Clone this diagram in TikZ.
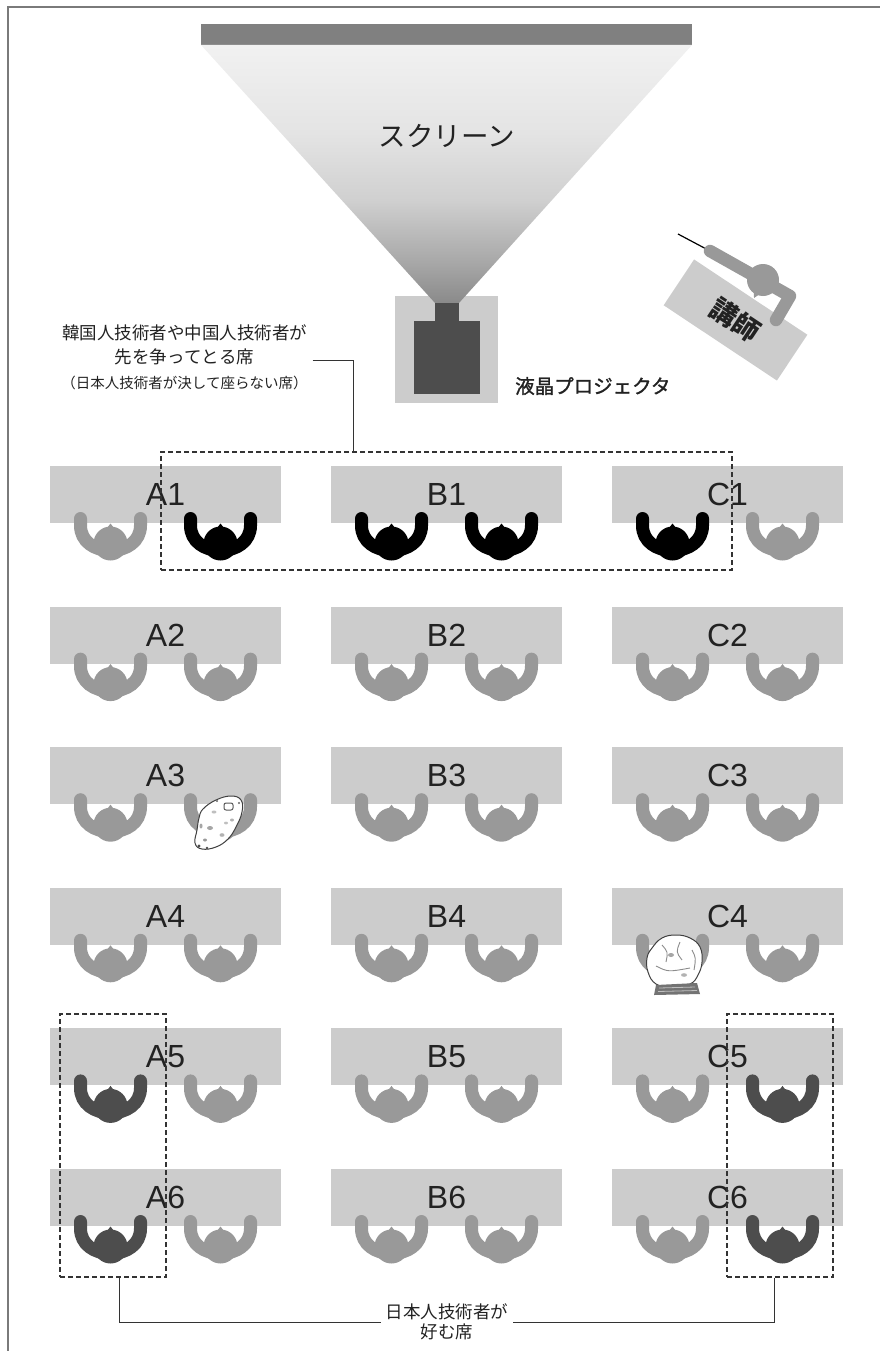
\documentclass[tikz,border=0pt]{standalone}
\usepackage{fontspec}
\newfontfamily\jpfont{Noto Sans CJK JP}
\newfontfamily\jpsemi{Noto Sans CJK JP}[FakeBold=1.4]
\newfontfamily\labfont{Liberation Sans}
\usetikzlibrary{calc}
\definecolor{tablegray}{HTML}{CCCCCC}
\definecolor{seatgray}{HTML}{999999}
\definecolor{seatdark}{HTML}{4D4D4D}
\definecolor{inkgray}{HTML}{333333}
\definecolor{framegray}{HTML}{7A7A7A}
\definecolor{bargray}{HTML}{808080}
\definecolor{beamtop}{HTML}{F1F1F1}
\definecolor{beamupper}{HTML}{E4E4E4}
\definecolor{beammid}{HTML}{D0D0D0}
\definecolor{beamlow}{HTML}{A8A8A8}
\definecolor{beambot}{HTML}{8A8A8A}
\definecolor{bodygray}{HTML}{4D4D4D}
\definecolor{txt}{HTML}{222222}

% light cone from the projector: pale at the screen, darker at the lens
\pgfdeclareverticalshading{beam}{100bp}{%
  color(0bp)=(beambot); color(25bp)=(beambot); color(33bp)=(beamlow);
  color(45bp)=(beammid); color(58bp)=(beamupper); color(75bp)=(beamtop);
  color(100bp)=(beamtop)}

\tikzset{
  desk/.style={fill=tablegray, minimum width=231, minimum height=57, inner sep=0,
    font=\labfont\fontsize{32}{32}\selectfont, text=txt},
  grp/.style={draw=inkgray, line width=1.1, dash pattern=on 5pt off 3pt, inner sep=0},
  lead/.style={draw=inkgray, line width=1},
  blobline/.style={draw=black!75, line width=1, fill=white},
  pics/seat/.style={code={
    \draw[#1, line width=13, line cap=round]
      (-30,-25) -- (-30,-18) .. controls (-30,-2) and (-16,7) .. (0,7)
      .. controls (16,7) and (30,-2) .. (30,-18) -- (30,-25);
    \fill[#1] (0,0) circle (17);
    \fill[#1] (-3.5,-15.5) -- (0,-20) -- (3.5,-15.5) -- cycle;
  }},
}

\begin{document}
\begin{tikzpicture}[x=1pt, y=-1pt]
\useasboundingbox (0,0) rectangle (880,1351);

% page frame (top and left edges)
\draw[framegray, line width=2] (8,1351) -- (8,7.5) -- (880,7.5);

% screen and projector
\fill[bargray] (201,24) rectangle (692,45);
\fill[tablegray] (395,296) rectangle (498,403);
\shade[shading=beam]
  (201,45) -- (692,45) -- (459,303) -- (435,303) -- cycle;
\fill[bodygray] (435,303) rectangle (459,321);
\fill[bodygray] (414,321) rectangle (480,394);
\node[font=\jpfont\fontsize{27.5}{27.5}\selectfont, text=txt, inner sep=0] (screen) at (447,136) {スクリーン};
\node[font=\jpsemi\fontsize{19.5}{19.5}\selectfont, text=txt, anchor=west, inner sep=0] (proj) at (515,386) {液晶プロジェクタ};

% lecturer
\node[fill=tablegray, rotate=-33.6, minimum width=136, minimum height=55, inner sep=0,
  font=\jpfont\bfseries\fontsize{27}{27}\selectfont, text=txt] (lect) at (735.5,320) {講師};
\draw[black, line width=1.2] (678,234) -- (710,251);
\draw[seatgray, line width=12.5, line cap=round, line join=round] (710,251) -- (790,296) -- (776,320);
\fill[seatgray] (763,280) circle (16);
\fill[seatgray] (759.5,294.3) -- (754,298) -- (753.9,291.2) -- cycle;

% caption for the front group
\node[font=\jpfont\fontsize{17.5}{24}\selectfont, text=txt, align=center, inner sep=0] (lblFront) at (184.5,357)
  {韓国人技術者や中国人技術者が\\先を争ってとる席\\[1pt]{\fontsize{14.5}{14.5}\selectfont （日本人技術者が決して座らない席）}};

% desks
\foreach \r in {1,...,6}{
  \foreach \t/\L in {0/A,1/B,2/C}{
    \pgfmathsetmacro\cx{165.5+281*\t}
    \pgfmathsetmacro\cy{494.5+140.6*(\r-1)}
    \node[desk] (t\L\r) at (\cx,\cy) {\L\r};
  }
}

% seats
\foreach \x/\c in {110.5/seatgray,220.5/black,391.5/black,501.5/black,672.5/black,782.5/seatgray}
  \pic at (\x,543.5) {seat=\c};
\foreach \r in {2,3,4}{
  \pgfmathsetmacro\hy{543.5+140.6*(\r-1)}
  \foreach \x in {110.5,220.5,391.5,501.5,672.5,782.5}
    \pic at (\x,\hy) {seat=seatgray};
}
\foreach \r in {5,6}{
  \pgfmathsetmacro\hy{543.5+140.6*(\r-1)}
  \foreach \x/\c in {110.5/seatdark,220.5/seatgray,391.5/seatgray,501.5/seatgray,672.5/seatgray,782.5/seatdark}
    \pic at (\x,\hy) {seat=\c};
}

% odd occupant at A3
\draw[blobline] plot[smooth cycle, tension=0.7] coordinates
  {(203,809) (216,800) (231,796) (241,800) (242,812) (236,827) (228,839) (216,847) (202,849) (195,843) (197,830) (199,818)};
\draw[black!65, line width=1, rounded corners=2] (224,803) rectangle (233,810);
\fill[black!35] (210,828) ellipse (3 and 2);
\fill[black!30] (222,835) ellipse (2.5 and 1.8);
\fill[black!40] (205,840) ellipse (2 and 1.5);
\fill[black!30] (232,820) ellipse (2 and 1.5);
\fill[black!25] (214,812) ellipse (2.5 and 1.5);
\fill[black!25] (226,823) ellipse (2 and 1.4);
\fill[black!35] (201,826) ellipse (1.5 and 2.5);
\fill[black!70] (199,846) circle (1.6);
\fill[black!70] (207,848) circle (1.3);
\fill[black!60] (239,803) circle (1.2);
\fill[black!60] (217,801) circle (1.1);

% odd occupant at C4
\draw[blobline] plot[smooth cycle, tension=0.7] coordinates
  {(652,948) (662,938) (676,935) (690,938) (700,947) (702,962) (698,975) (690,984) (672,987) (656,984) (648,972) (647,958)};
\draw[black!45, line width=0.9] (662,945) .. controls (668,952) .. (666,962);
\draw[black!45, line width=0.9] (680,942) .. controls (676,952) .. (682,960);
\draw[black!45, line width=0.9] (656,966) .. controls (668,972) .. (690,968);
\draw[black!45, line width=0.9] (692,950) .. controls (696,958) .. (694,970);
\fill[black!35] (671,955) ellipse (3 and 2);
\fill[black!30] (684,975) ellipse (3 and 1.8);
\fill[black!55] (656,985) -- (697,983) -- (700,994) -- (654,995) -- cycle;
\draw[white!75!black, line width=0.8] (659,988) -- (695,987);
\draw[white!75!black, line width=0.8] (658,991.5) -- (697,990.5);

% dashed groups
\node[grp, minimum width=571, minimum height=118] (gFront) at (446.5,511) {};
\node[grp, minimum width=106, minimum height=263] (gLeft) at (113,1145.5) {};
\node[grp, minimum width=106, minimum height=263] (gRight) at (780,1145.5) {};

% caption for the back groups
\node[font=\jpfont\fontsize{17.5}{20}\selectfont, text=txt, align=center, inner sep=5] (lblBack) at (447,1322)
  {日本人技術者が\\好む席};

% leaders
\draw[lead] ([xshift=5,yshift=-3]lblFront.east) -| ([xshift=-93.5]gFront.north);
\draw[lead] ([xshift=6]gLeft.south) |- (lblBack.west);
\draw[lead] ([xshift=-6]gRight.south) |- (lblBack.east);
\end{tikzpicture}
\end{document}
